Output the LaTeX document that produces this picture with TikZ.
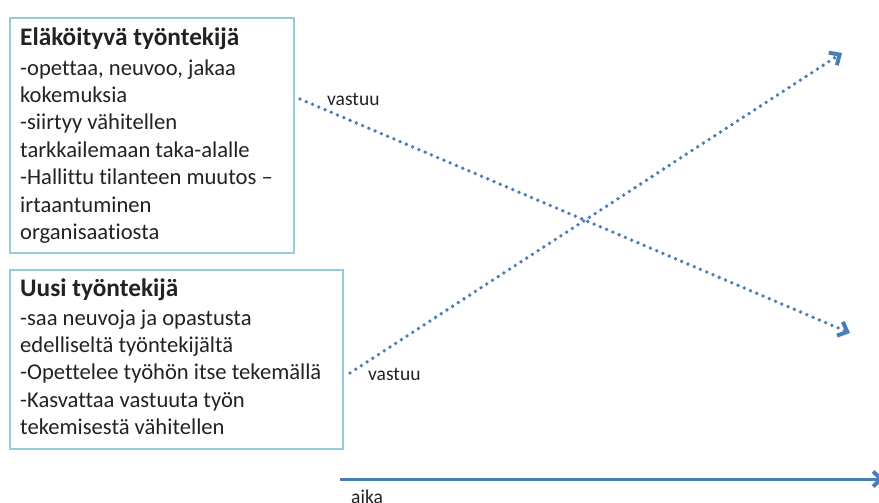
\documentclass[tikz,border=0pt]{standalone}
\usepackage{fontspec}
\setmainfont{Carlito}[Ligatures=NoCommon]
\usetikzlibrary{arrows.meta}
\definecolor{boxline}{HTML}{93CDDD}
\definecolor{flow}{HTML}{4A7EBB}
\definecolor{ink}{HTML}{222222}
\tikzset{
  rolebox/.style={draw=boxline, line width=2pt, anchor=north west, inner sep=0pt},
  roletitle/.style={anchor=base west, inner sep=0pt, text=ink,
    font=\fontsize{25.3}{29}\selectfont\bfseries},
  % multi-line nodes: the base anchor sits on the last line
  rolebody/.style={anchor=base west, inner sep=0pt, text=ink, align=left,
    font=\fontsize{22.6}{27.4}\selectfont},
  note/.style={anchor=base west, inner sep=0pt, text=ink,
    font=\fontsize{19.5}{23}\selectfont},
  resp/.style={draw=flow, line width=3.8pt, line cap=round,
    dash pattern=on 0pt off 6.8pt,
    -{Straight Barb[length=8pt,width=15pt,line cap=butt,line join=miter,line width=4pt]}},
  timeline/.style={draw=flow, line width=3pt,
    -{Straight Barb[length=8pt,width=15pt,line width=4pt]}}
}
\begin{document}
\begin{tikzpicture}[x=1pt,y=-1pt]
  \useasboundingbox (0,0) rectangle (879,503);

  % retiring employee
  \node[rolebox, minimum width=284pt, minimum height=235pt] (oldbox) at (9,17) {};
  \node[roletitle] (oldtitle) at (20,46) {Eläköityvä työntekijä};
  \node[rolebody] (oldtext) at (20,239.4) {-opettaa, neuvoo, jakaa\\kokemuksia\\-siirtyy vähitellen\\tarkkailemaan taka-alalle\\-Hallittu tilanteen muutos –\\irtaantuminen\\organisaatiosta};

  % new employee
  \node[rolebox, minimum width=333pt, minimum height=179pt] (newbox) at (9,269) {};
  \node[roletitle] (newtitle) at (20,296.7) {Uusi työntekijä};
  \node[rolebody] (newtext) at (20,434.6) {-saa neuvoja ja opastusta\\edelliseltä työntekijältä\\-Opettelee työhön itse tekemällä\\-Kasvattaa vastuuta työn\\tekemisestä vähitellen};

  % responsibility moving from one to the other
  \coordinate (downstart) at (300,99);
  \coordinate (downend) at (850,333);
  \coordinate (upstart) at (350,373);
  \coordinate (upend) at (842,53);
  \draw[resp] (downstart) -- (downend);
  \draw[resp] (upstart) -- (upend);
  \node[note] (downlabel) at (327,106) {vastuu};
  \node[note] (uplabel) at (368,380.5) {vastuu};

  % time axis
  \coordinate (tstart) at (340,479);
  \coordinate (tend) at (884,479);
  \draw[timeline] (tstart) -- (tend);
  \node[note] (timelabel) at (351,503) {aika};
\end{tikzpicture}
\end{document}
